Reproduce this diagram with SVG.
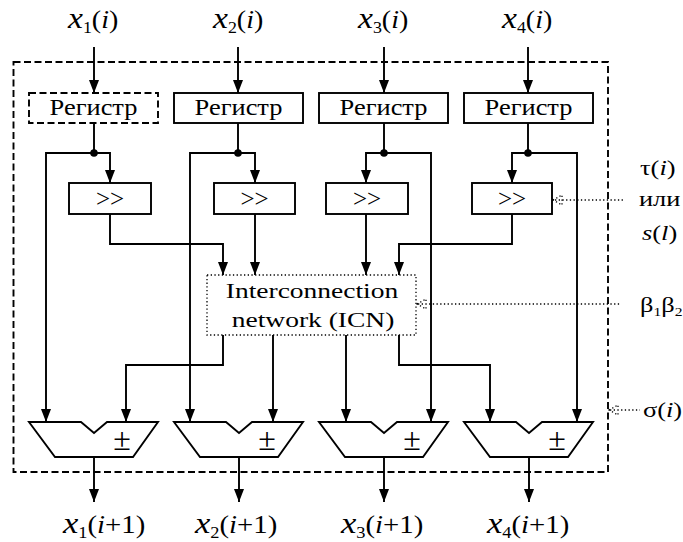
<svg xmlns="http://www.w3.org/2000/svg" width="683" height="542" viewBox="0 0 683 542" font-family="'Liberation Serif', 'Times New Roman', serif">
<defs>
<marker id="ah" markerUnits="userSpaceOnUse" markerWidth="14" markerHeight="11" refX="13" refY="5" orient="auto"><path d="M0,0 L13,5 L0,10 Z" fill="#000"/></marker>
<style>
.ln{fill:none;stroke:#000;stroke-width:1.9}
.ar{fill:none;stroke:#000;stroke-width:1.9;marker-end:url(#ah)}
.box{fill:#fff;stroke:#000;stroke-width:1.9}
.dsh{stroke-dasharray:7 3.5}
.dot{fill:none;stroke:#000;stroke-width:1.3;stroke-dasharray:1.3 2.4}
text{font-family:'Liberation Serif','Times New Roman',serif;fill:#000}
</style>
</defs>
<rect width="683" height="542" fill="#fff"/>
<rect id="frame" x="13.5" y="62" width="594.5" height="410" class="ln dsh"/>

<g id="connectors">
<path class="ar" d="M94,47 V93"/>
<path class="ar" d="M238,47 V93"/>
<path class="ar" d="M384,47 V93"/>
<path class="ar" d="M528,47 V93"/>
<path class="ln" d="M94,123 V153"/>
<path class="ln" d="M238,123 V153"/>
<path class="ln" d="M384,123 V153"/>
<path class="ln" d="M528,123 V153"/>
<path class="ar" d="M94,153 H46 V422"/>
<path class="ar" d="M94,153 H110 V183"/>
<path class="ar" d="M238,153 H190 V422"/>
<path class="ar" d="M238,153 H255 V183"/>
<path class="ar" d="M384,153 H431 V422"/>
<path class="ar" d="M384,153 H366 V183"/>
<path class="ar" d="M528,153 H577 V422"/>
<path class="ar" d="M528,153 H512 V183"/>
<circle cx="94" cy="153" r="3.8"/>
<circle cx="238" cy="153" r="3.8"/>
<circle cx="384" cy="153" r="3.8"/>
<circle cx="528" cy="153" r="3.8"/>
<path class="ar" d="M110,214 V244 H223 V275"/>
<path class="ar" d="M255,214 V275"/>
<path class="ar" d="M366,214 V275"/>
<path class="ar" d="M512,214 V244 H399 V275"/>
<path class="ar" d="M223,335 V365 H126 V422"/>
<path class="ar" d="M273,335 V422"/>
<path class="ar" d="M346,335 V422"/>
<path class="ar" d="M399,335 V365 H490 V422"/>
<path class="ar" d="M94,457 V502"/>
<path class="ar" d="M239,457 V502"/>
<path class="ar" d="M384,457 V502"/>
<path class="ar" d="M529,457 V502"/>
<path class="dot" d="M555,200 H625 M553,200 L562,195 L562,205 Z"/>
<path class="dot" d="M418,304 H620 M417,304 L426,299 L426,309 Z"/>
<path class="dot" d="M610,410 H640 M609,410 L618,405 L618,415 Z"/>
</g>

<g id="in1" transform="translate(68,28) scale(1.12,1)"><text font-size="25" x="0" y="0"><tspan font-style="italic" font-size="30">x</tspan><tspan font-size="16" dy="5">1</tspan><tspan dy="-5">(</tspan><tspan font-style="italic">i</tspan>)</text></g>
<g id="in2" transform="translate(213,28) scale(1.12,1)"><text font-size="25" x="0" y="0"><tspan font-style="italic" font-size="30">x</tspan><tspan font-size="16" dy="5">2</tspan><tspan dy="-5">(</tspan><tspan font-style="italic">i</tspan>)</text></g>
<g id="in3" transform="translate(358,28) scale(1.12,1)"><text font-size="25" x="0" y="0"><tspan font-style="italic" font-size="30">x</tspan><tspan font-size="16" dy="5">3</tspan><tspan dy="-5">(</tspan><tspan font-style="italic">i</tspan>)</text></g>
<g id="in4" transform="translate(502,28) scale(1.12,1)"><text font-size="25" x="0" y="0"><tspan font-style="italic" font-size="30">x</tspan><tspan font-size="16" dy="5">4</tspan><tspan dy="-5">(</tspan><tspan font-style="italic">i</tspan>)</text></g>

<g id="reg1"><rect x="29" y="93" width="129" height="30" class="box dsh"/><text font-size="23" text-anchor="middle" transform="translate(93.5,115) scale(1.15,1)">Регистр</text></g>
<g id="reg2"><rect x="174" y="93" width="129" height="30" class="box"/><text font-size="23" text-anchor="middle" transform="translate(238.5,115) scale(1.15,1)">Регистр</text></g>
<g id="reg3"><rect x="319" y="93" width="129" height="30" class="box"/><text font-size="23" text-anchor="middle" transform="translate(383.5,115) scale(1.15,1)">Регистр</text></g>
<g id="reg4"><rect x="464" y="93" width="129" height="30" class="box"/><text font-size="23" text-anchor="middle" transform="translate(528.5,115) scale(1.15,1)">Регистр</text></g>

<g id="sh1"><rect x="69" y="183" width="82" height="31" class="box"/><text font-size="25" text-anchor="middle" x="110" y="207">&gt;&gt;</text></g>
<g id="sh2"><rect x="214" y="183" width="81" height="31" class="box"/><text font-size="25" text-anchor="middle" x="254.5" y="207">&gt;&gt;</text></g>
<g id="sh3"><rect x="326" y="183" width="82" height="31" class="box"/><text font-size="25" text-anchor="middle" x="367" y="207">&gt;&gt;</text></g>
<g id="sh4"><rect x="472" y="183" width="80" height="31" class="box"/><text font-size="25" text-anchor="middle" x="512" y="207">&gt;&gt;</text></g>

<g id="icn"><rect x="207" y="275" width="209" height="60" class="dot" fill="#fff"/><text font-size="22" text-anchor="middle" transform="translate(312,298) scale(1.25,1)">Interconnection</text><text font-size="22" text-anchor="middle" transform="translate(313,327) scale(1.25,1)">network (ICN)</text></g>

<g id="add1"><polygon class="box" points="29,422 81,422 94,433 107,422 158,422 133,457 55,457"/><text font-size="32" text-anchor="middle" x="122" y="450">±</text></g>
<g id="add2"><polygon class="box" points="174,422 226,422 239,433 252,422 303,422 278,457 200,457"/><text font-size="32" text-anchor="middle" x="267" y="450">±</text></g>
<g id="add3"><polygon class="box" points="319,422 371,422 384,433 397,422 448,422 423,457 345,457"/><text font-size="32" text-anchor="middle" x="412" y="450">±</text></g>
<g id="add4"><polygon class="box" points="464,422 516,422 529,433 542,422 593,422 568,457 490,457"/><text font-size="32" text-anchor="middle" x="557" y="450">±</text></g>

<g id="out1" transform="translate(63,533) scale(1.15,1)"><text font-size="25" x="0" y="0"><tspan font-style="italic" font-size="30">x</tspan><tspan font-size="16" dy="5">1</tspan><tspan dy="-5">(</tspan><tspan font-style="italic">i</tspan>+1)</text></g>
<g id="out2" transform="translate(195,533) scale(1.15,1)"><text font-size="25" x="0" y="0"><tspan font-style="italic" font-size="30">x</tspan><tspan font-size="16" dy="5">2</tspan><tspan dy="-5">(</tspan><tspan font-style="italic">i</tspan>+1)</text></g>
<g id="out3" transform="translate(341,533) scale(1.15,1)"><text font-size="25" x="0" y="0"><tspan font-style="italic" font-size="30">x</tspan><tspan font-size="16" dy="5">3</tspan><tspan dy="-5">(</tspan><tspan font-style="italic">i</tspan>+1)</text></g>
<g id="out4" transform="translate(487,533) scale(1.15,1)"><text font-size="25" x="0" y="0"><tspan font-style="italic" font-size="30">x</tspan><tspan font-size="16" dy="5">4</tspan><tspan dy="-5">(</tspan><tspan font-style="italic">i</tspan>+1)</text></g>

<g id="lbl-tau"><text font-size="22" transform="translate(640,175) scale(1.2,1)">τ(<tspan font-style="italic">i</tspan>)</text><text font-size="22" transform="translate(639,206) scale(1.2,1)">или</text><text font-size="22" transform="translate(642,240) scale(1.2,1)"><tspan font-style="italic">s</tspan>(<tspan font-style="italic">l</tspan>)</text></g>
<g id="lbl-beta"><text font-size="22" transform="translate(640,312) scale(1.2,1)">β<tspan font-size="13" dy="4">1</tspan><tspan dy="-4">β</tspan><tspan font-size="13" dy="4">2</tspan></text></g>
<g id="lbl-sigma"><text font-size="22" transform="translate(643,417) scale(1.2,1)">σ(<tspan font-style="italic">i</tspan>)</text></g>
</svg>
